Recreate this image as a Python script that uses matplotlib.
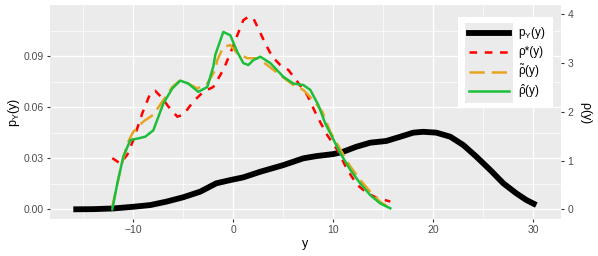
import matplotlib
matplotlib.use("Agg")
import matplotlib.pyplot as plt
from matplotlib.lines import Line2D
from matplotlib.patches import Rectangle
import numpy as np

plt.rcParams['font.family'] = ['Liberation Sans', 'DejaVu Sans']
plt.rcParams['mathtext.fontset'] = 'custom'
plt.rcParams['mathtext.rm'] = 'Liberation Sans'
plt.rcParams['mathtext.it'] = 'Liberation Sans:italic'
plt.rcParams['lines.scale_dashes'] = False

# ---- data ----
py_x = [-16, -14, -12, -10, -8.3, -6.7, -5, -3.3, -1.7, -0.3, 1, 2.7, 5, 7, 8.3, 10, 11, 12.3, 13.7, 15.3, 16.7,
        18, 19, 20.3, 21.7, 23, 24.3, 25.7, 27, 28.3, 29.3, 30.3]
py_y = [0.0, 0.0001, 0.0005, 0.0015, 0.0025, 0.0045, 0.0071, 0.0104, 0.0153, 0.0172, 0.0188, 0.0221, 0.026, 0.030,
        0.0313, 0.0325, 0.0339, 0.0368, 0.0392, 0.0402, 0.0427, 0.0451, 0.0456, 0.0451, 0.0427, 0.0378, 0.031,
        0.0231, 0.0153, 0.0094, 0.0055, 0.0025]

rstar_x = [-12.1, -11.3, -10.6, -10, -9.1, -8.3, -7.8, -7.1, -6.5, -5.6, -5, -4, -3, -2, -1, -0.3, 0.4, 1.0, 1.5,
           2.0, 2.5, 3.2, 3.9, 4.7, 5.5, 6.4, 7.4, 8.4, 9.4, 10.4, 11.4, 12.4, 13.4, 14.4, 15.7]
rstar_y = [1.05, 0.94, 1.12, 1.42, 1.97, 2.38, 2.43, 2.28, 2.11, 1.90, 1.94, 2.21, 2.41, 2.51, 2.86, 3.20, 3.57, 3.88,
           3.95, 3.92, 3.71, 3.40, 3.13, 2.96, 2.86, 2.62, 2.34, 1.90, 1.52, 1.22, 0.81, 0.50, 0.33, 0.23, 0.16]

rtil_x = [-12.1, -11.3, -10.6, -10, -9, -8, -7, -6.1, -5.3, -4.5, -3.6, -2.6, -1.8, -1.6, -1, -0.3, 0.4, 1.4, 2.4,
          3.4, 4.7, 6, 7, 8, 8.9, 9.7, 10.7, 11.7, 12.7, 13.7, 14.7, 15.7]
rtil_y = [0.05, 0.80, 1.35, 1.59, 1.80, 1.94, 2.24, 2.51, 2.65, 2.58, 2.48, 2.58, 2.86, 3.06, 3.33, 3.37, 3.20, 3.10,
          3.10, 2.96, 2.75, 2.55, 2.45, 2.24, 2.00, 1.59, 1.23, 0.88, 0.60, 0.36, 0.15, 0.02]

rhat_x = [-12.1, -11.6, -11, -10.3, -9.6, -8.8, -8, -7, -6.1, -5.3, -4.5, -3.5, -2.6, -2, -1.8, -1.0, -0.3, 0.4, 1.0,
          1.5, 2.0, 2.7, 3.7, 5.0, 6.0, 7.0, 7.7, 8.5, 9.2, 9.7, 10.7, 11.7, 12.7, 13.7, 14.7, 15.7]
rhat_y = [0.0, 0.53, 1.08, 1.42, 1.45, 1.49, 1.62, 2.17, 2.48, 2.64, 2.58, 2.41, 2.51, 2.93, 3.17, 3.64, 3.57, 3.23,
          3.00, 2.96, 3.06, 3.13, 3.00, 2.72, 2.58, 2.55, 2.45, 2.14, 1.76, 1.56, 1.15, 0.81, 0.53, 0.29, 0.12, 0.02]

x_ticks = [-10, 0, 10, 20, 30]
yl_ticks = [0.00, 0.03, 0.06, 0.09]
yr_ticks = [0, 1, 2, 3, 4]
labels = [r'$\mathregular{p_Y(y)}$', 'ρ*(y)', r'$\mathregular{\tilde{\rho}(y)}$',
          r'$\mathregular{\hat{\rho}(y)}$']

K = 0.028676  # rho scale -> left axis units

# ---- figure ----
W, H = 598, 256
fig = plt.figure(figsize=(W / 100, H / 100), dpi=100)
L, R, T, B = 50, 561, 5, 219
ax = fig.add_axes([L / W, 1 - B / H, (R - L) / W, (B - T) / H])
ax.set_facecolor('#EBEBEB')
for s in ax.spines.values():
    s.set_visible(False)

ax.set_xlim(-18.33, 32.77)
ax.set_ylim(-0.0057, 0.1202)
ax.set_xticks(x_ticks)
ax.set_xticklabels(['\u221210', '0', '10', '20', '30'])
ax.set_xticks([-15, -5, 5, 15, 25], minor=True)
ax.set_yticks(yl_ticks)
ax.set_yticklabels(['0.00', '0.03', '0.06', '0.09'])
ax.set_yticks([0.015, 0.045, 0.075, 0.105], minor=True)
ax.grid(True, which='major', color='white', lw=1.0)
ax.grid(True, which='minor', color='white', lw=0.5)
ax.set_axisbelow(True)
ax.tick_params(which='major', length=2.5, width=0.8, color='#333333', labelsize=7.5, labelcolor='#4D4D4D', pad=2)
ax.tick_params(which='minor', length=0)

ax.plot(py_x, py_y, color='black', lw=4.2, solid_capstyle='butt', solid_joinstyle='round', zorder=3)
ax.plot(rstar_x, np.array(rstar_y) * K, color='#FF0000', lw=1.8, dashes=(5.5, 5.5), zorder=4)
ax.plot(rtil_x, np.array(rtil_y) * K, color='#E6A521', lw=1.8, dashes=(11, 5), zorder=5)
ax.plot(rhat_x, np.array(rhat_y) * K, color='#1DBE3C', lw=1.8, zorder=6)

sec = ax.secondary_yaxis('right', functions=(lambda v: v / K, lambda v: v * K))
sec.set_yticks(yr_ticks)
sec.tick_params(length=2.5, width=0.8, color='#333333', labelsize=7.5, labelcolor='#4D4D4D', pad=2)
for s in sec.spines.values():
    s.set_visible(False)

fig.text(305 / W, 1 - 244 / H, 'y', ha='center', va='center', fontsize=9)
fig.text(14 / W, 1 - 112 / H, r'$\mathregular{p_Y(y)}$', ha='center', va='center', rotation=90, fontsize=9)
fig.text(586 / W, 1 - 112 / H, r'$\mathregular{\rho(y)}$', ha='center', va='center', rotation=270, fontsize=9)

# ---- legend ----
def fx(px):
    return px / W

def fy(py):
    return 1 - py / H

fig.patches.append(Rectangle((fx(458), fy(107)), (553 - 458) / W, (107 - 17) / H, transform=fig.transFigure,
                             facecolor='white', edgecolor='none', zorder=10))
fig.patches.append(Rectangle((fx(465), fy(103)), (513 - 465) / W, (103 - 23) / H, transform=fig.transFigure,
                             facecolor='#EBEBEB', edgecolor='none', zorder=11))
styles = [dict(color='black', lw=4.2), dict(color='#FF0000', lw=1.8, dashes=(5.5, 5.5)),
          dict(color='#E6A521', lw=1.8, dashes=(11, 5)), dict(color='#1DBE3C', lw=1.8)]
ycent = [32.7, 52.3, 71.7, 91.0]
for st, yc, lab in zip(styles, ycent, labels):
    ln = Line2D([fx(469), fx(509)], [fy(yc), fy(yc)], transform=fig.transFigure, zorder=12, **st)
    fig.lines.append(ln)
    fig.text(fx(518), fy(yc), lab, ha='left', va='center', fontsize=8.5, zorder=13)

fig.savefig('out.png', dpi=100)
